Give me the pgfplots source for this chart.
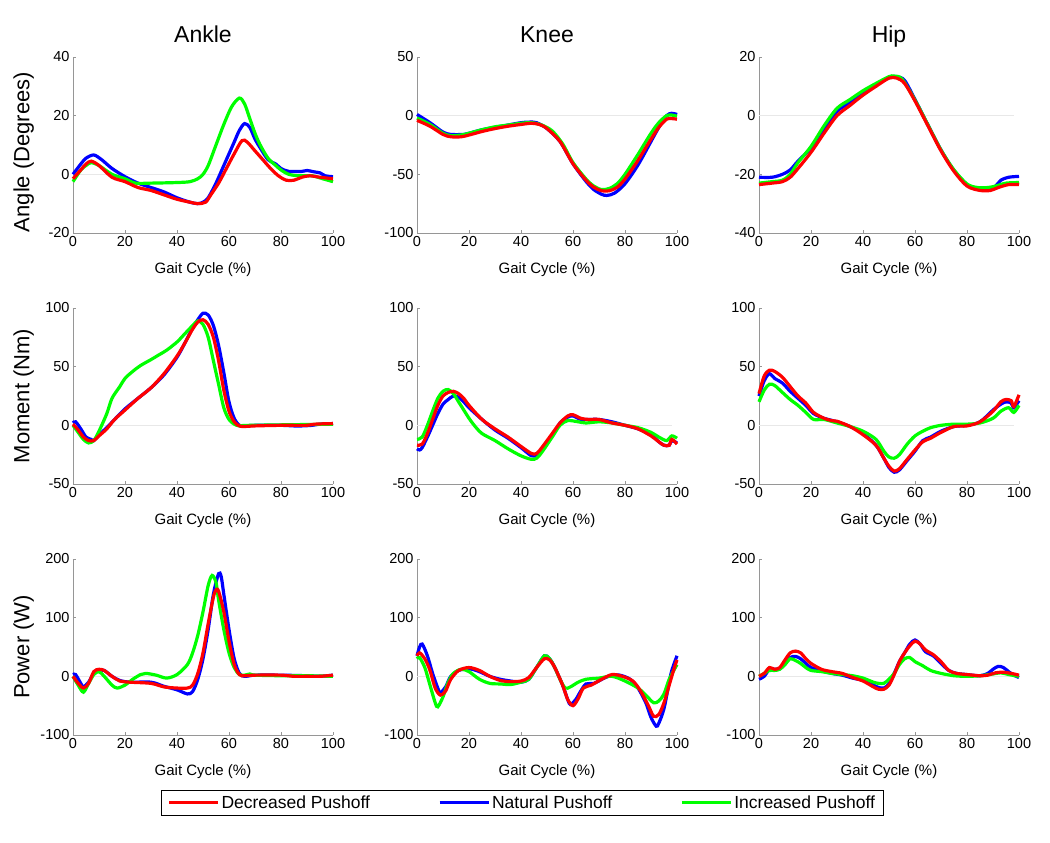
\documentclass[border=0pt]{standalone}
\usepackage{pgfplots}
\pgfplotsset{compat=1.18}
\usepackage{fontspec}
\setmainfont{Liberation Sans}
\definecolor{axgray}{RGB}{150,150,150}
\definecolor{zgray}{RGB}{232,232,232}
\pgfplotsset{
  gait/.style={
    scale only axis, width=260pt, height=176pt,
    xmin=0, xmax=100, xtick={0,20,...,100},
    axis lines=left, axis line style={-, draw=axgray, line width=0.6pt},
    tick style={draw=axgray, line width=0.6pt}, tick align=inside, major tick length=3pt,
    ticklabel style={font=\fontsize{14.5}{17}\selectfont, text=black},
    /pgf/number format/assume math mode=true,
    xlabel={Gait Cycle (\%)},
    every axis x label/.style={at={(axis description cs:0.5,0)}, anchor=base, yshift=-41pt, font=\fontsize{15}{18}\selectfont},
    every axis title/.style={at={(axis description cs:0.5,1)}, anchor=base, yshift=14pt, font=\fontsize{23}{27}\selectfont},
    every axis y label/.style={at={(axis description cs:-0.19,0.5)}, rotate=90, anchor=center, font=\fontsize{22}{26}\selectfont},
    clip=false,
  },
  dat/.style={line width=3.2pt, smooth, forget plot},
}
\newcommand{\zeroline}{\addplot[zgray, line width=0.5pt, forget plot] coordinates {(0,0) (98,0)};}
\begin{document}
\begin{tikzpicture}
\useasboundingbox (0,0) rectangle (1050pt,843pt);
% ---------------- Row 1: angles ----------------
\begin{axis}[gait, at={(73pt,610pt)}, anchor=south west, ymin=-20, ymax=40, ytick={-20,0,20,40}, title={Ankle}, ylabel={Angle (Degrees)},
  every axis y label/.style={at={(axis description cs:-0.19,0.46)}, rotate=90, anchor=center, font=\fontsize{22}{26}\selectfont}]
\zeroline
\addplot[blue, dat] coordinates {(0,0) (3,3.5) (5,5.5) (8,6.6) (11,5) (15,2) (20,-0.8) (25,-3) (30,-4.5) (35,-6) (40,-8) (45,-9.5) (48,-10) (50,-9.5) (52,-8) (55,-3) (58,3) (60,7) (62,11) (64,15) (66,17.3) (68,16) (70,12) (72,9) (75,5) (78,3.5) (80,2) (83,1) (88,1) (90,1.3) (93,0.8) (95,0.5) (97,-0.5) (100,-0.8)};
\addplot[green, dat] coordinates {(0,-2.5) (3,1.5) (5,3) (7,4) (10,3) (15,0) (20,-1.5) (24,-3) (30,-3) (40,-2.8) (45,-2.5) (48,-1.5) (50,0) (52,3) (55,10) (58,17) (61,23) (64,26) (66,24) (68,19) (70,14) (72,10) (75,5.5) (78,3) (80,1.5) (83,0) (87,-0.5) (92,-0.5) (96,-1.5) (100,-2.5)};
\addplot[red, dat] coordinates {(0,-1.5) (3,1.5) (5,3.5) (7,4.5) (10,3) (15,-1) (20,-2.5) (25,-4.5) (30,-5.5) (35,-7) (40,-8.5) (45,-9.5) (48,-10) (51,-9.5) (53,-7) (56,-3) (59,2) (62,7) (65,11.5) (67,11) (70,8) (73,5) (76,2) (79,-0.5) (82,-2) (85,-2) (88,-1) (91,-0.5) (95,-1) (100,-1.5)};
\end{axis}
\begin{axis}[gait, at={(417pt,610pt)}, anchor=south west, ymin=-100, ymax=50, ytick={-100,-50,0,50}, title={Knee}]
\zeroline
\addplot[blue, dat] coordinates {(0,1) (5,-6) (10,-14) (13,-16) (18,-16) (20,-15) (25,-12) (30,-10) (35,-8) (40,-6) (43,-5.5) (46,-6) (50,-11) (55,-22) (60,-41) (65,-56) (68,-63) (71,-67) (73,-68) (76,-66) (80,-58) (85,-42) (90,-22) (93,-10) (96,0) (98,2) (100,1)};
\addplot[green, dat] coordinates {(0,-2) (5,-7.5) (10,-15) (13,-17) (17,-16.5) (20,-15) (25,-12) (30,-9.5) (35,-8) (40,-6.5) (44,-6) (48,-8) (52,-13) (56,-24) (60,-40) (65,-54) (68,-60) (71,-63) (74,-62) (77,-58) (80,-50) (85,-33) (90,-15) (93,-6) (96,0) (98,0.5) (100,-0.5)};
\addplot[red, dat] coordinates {(0,-4) (5,-9) (10,-16) (13,-18) (17,-18) (20,-16.5) (25,-13.5) (30,-11) (35,-9) (40,-7.5) (44,-6.5) (47,-7.5) (50,-11) (55,-22) (60,-41) (65,-55) (68,-61) (71,-64) (74,-64) (77,-61) (80,-54) (85,-38) (90,-20) (93,-10) (96,-3) (98,-2.5) (100,-3)};
\end{axis}
\begin{axis}[gait, at={(759pt,610pt)}, anchor=south west, ymin=-40, ymax=20, ytick={-40,-20,0,20}, title={Hip}]
\zeroline
\addplot[blue, dat] coordinates {(0,-21) (5,-21) (9,-20) (12,-18.5) (15,-15.5) (20,-11) (25,-4.5) (30,1.5) (35,4.5) (40,8) (45,10.5) (50,13) (53,13.3) (56,12) (60,5.5) (65,-3.2) (70,-11.7) (75,-18.7) (80,-23.5) (84,-25) (88,-25) (91,-24) (93,-22) (96,-21) (100,-20.7)};
\addplot[green, dat] coordinates {(0,-23) (5,-22.5) (9,-22) (12,-20) (15,-16) (20,-10.5) (25,-3.5) (30,2.5) (35,5.5) (40,8.5) (45,11) (50,13.3) (52,13.5) (55,12.5) (60,5.3) (65,-3.2) (70,-11.7) (75,-18.5) (80,-23.3) (84,-24.5) (88,-24.5) (91,-24) (95,-23) (100,-22.8)};
\addplot[red, dat] coordinates {(0,-23.5) (5,-23) (9,-22.5) (12,-21) (15,-18) (20,-12.5) (25,-6) (30,0) (35,3.5) (40,7) (45,10) (50,12.8) (53,12.8) (56,11) (60,5) (65,-3.5) (70,-12) (75,-19) (80,-24) (85,-25.5) (89,-25.5) (92,-24.5) (96,-23.5) (100,-23.5)};
\end{axis}
% ---------------- Row 2: moments ----------------
\begin{axis}[gait, at={(73pt,359pt)}, anchor=south west, ymin=-50, ymax=100, ytick={-50,0,50,100}, ylabel={Moment (Nm)}]
\zeroline
\addplot[blue, dat] coordinates {(0,2) (1,3) (3,-3) (5,-10) (7,-12) (8,-13) (10,-8) (13,-2) (16,5) (20,14) (25,23) (30,32) (35,43) (40,58) (43,70) (46,83) (48,90) (50,95.5) (52,94) (54,85) (56,68) (58,45) (60,20) (62,6) (64,0) (66,-0.5) (70,0) (80,0) (85,-0.5) (88,-0.5) (92,0) (95,1) (100,1.5)};
\addplot[green, dat] coordinates {(0,0) (2,-6) (4,-12) (6,-15) (8,-13) (10,-5) (13,10) (15,23) (18,33) (20,40) (23,46) (26,51) (30,56) (33,60) (36,64) (40,71) (43,78) (46,85) (48,89) (50,86) (52,75) (54,55) (56,35) (58,15) (60,5) (62,1) (64,-0.5) (68,0) (100,1)};
\addplot[red, dat] coordinates {(0,1) (2,-4) (4,-10) (6,-13) (8,-13) (10,-9) (13,-3) (16,5) (20,13) (25,23) (30,32) (35,44) (40,59) (43,70) (46,82) (48,88) (50,90) (52,86) (54,75) (56,55) (58,30) (60,12) (62,3) (64,-0.5) (66,-1) (70,-0.5) (80,0) (90,0) (93,1) (100,1.5)};
\end{axis}
\begin{axis}[gait, at={(417pt,359pt)}, anchor=south west, ymin=-50, ymax=100, ytick={-50,0,50,100}]
\zeroline
\addplot[blue, dat] coordinates {(0,-20) (1,-21) (2,-19) (4,-10) (6,0) (8,10) (10,18) (12,22) (14,25) (16,24) (18,20) (20,15) (25,5) (30,-4) (35,-11) (40,-19) (44,-26) (46,-25) (48,-20) (52,-9) (55,2) (58,7) (60,8) (63,5) (66,5) (70,5) (75,3) (80,0) (85,-3) (90,-8) (93,-14) (95,-17) (97,-17) (98,-13) (100,-15)};
\addplot[green, dat] coordinates {(0,-12) (2,-10) (4,0) (6,12) (8,23) (10,29) (12,30.5) (14,27) (16,20) (18,13) (20,6) (22,0) (25,-7) (30,-13) (35,-20) (40,-26) (44,-29) (46,-28) (48,-23) (52,-10) (55,0) (58,4) (62,3) (65,2) (70,3) (75,2) (80,0) (85,-2) (90,-6) (93,-10) (96,-13) (98,-9) (100,-11)};
\addplot[red, dat] coordinates {(0,-17) (2,-16) (4,-7) (6,5) (8,17) (10,25) (12,28) (14,29) (16,27) (18,23) (20,17) (25,5) (30,-3) (35,-10) (40,-18) (44,-24) (46,-24) (48,-19) (52,-7) (55,2) (58,8) (60,9) (63,6) (66,5) (70,5) (75,2) (80,0) (85,-3) (90,-9) (93,-14) (95,-17) (97,-17) (98,-12) (100,-16)};
\end{axis}
\begin{axis}[gait, at={(759pt,359pt)}, anchor=south west, ymin=-50, ymax=100, ytick={-50,0,50,100}]
\zeroline
\addplot[blue, dat] coordinates {(0,25) (2,38) (4,44) (6,40) (9,36) (12,29) (15,23) (18,17) (21,10) (25,6) (30,3) (35,-1) (40,-7) (45,-17) (48,-28) (50,-36) (52,-40) (54,-38) (57,-30) (60,-22) (63,-13) (66,-10) (70,-5) (75,-1) (80,0) (85,3) (90,13) (93,18) (95,20) (97,19) (98,15) (100,21)};
\addplot[green, dat] coordinates {(0,20) (2,30) (4,35) (6,34) (9,28) (12,22) (15,17) (18,11) (21,5) (25,5) (30,2) (35,-1) (40,-5) (45,-12) (48,-22) (50,-27) (52,-28) (54,-25) (57,-16) (60,-9) (63,-5) (66,-2) (70,0) (75,1) (80,1) (85,2) (90,6) (93,12) (96,15) (98,11) (100,17)};
\addplot[red, dat] coordinates {(0,27) (2,42) (4,47) (6,46) (9,41) (12,33) (15,25) (18,19) (21,11) (25,6) (28,4) (30,3.5) (35,-1) (40,-8) (45,-17) (48,-28) (50,-35) (52,-39) (54,-37) (57,-29) (60,-21) (63,-14) (66,-11) (70,-6) (75,-1) (80,-0.5) (85,3) (90,12) (93,20) (95,22) (97,21) (98,16) (100,26)};
\end{axis}
% ---------------- Row 3: power ----------------
\begin{axis}[gait, at={(73pt,108pt)}, anchor=south west, ymin=-100, ymax=200, ytick={-100,0,100,200}, ylabel={Power (W)}]
\zeroline
\addplot[blue, dat] coordinates {(0,3) (1,3) (3,-12) (4,-18) (6,-10) (8,5) (10,10) (12,10) (15,0) (18,-7) (22,-10) (30,-10) (35,-17) (40,-23) (44,-30) (46,-26) (48,-5) (50,30) (52,80) (54,140) (56,175) (57,170) (58,140) (60,80) (62,30) (64,5) (66,0) (70,2) (80,2) (90,1) (95,0) (100,2)};
\addplot[green, dat] coordinates {(0,0) (2,-15) (4,-27) (6,-12) (8,3) (10,8) (12,0) (15,-15) (17,-20) (20,-15) (23,-5) (26,3) (28,5) (32,2) (36,-3) (40,3) (44,20) (46,40) (48,70) (50,110) (52,155) (53.5,172) (55,160) (56,130) (58,80) (60,40) (62,15) (64,3) (66,2) (68,4) (70,2) (80,1) (90,1) (100,0)};
\addplot[red, dat] coordinates {(0,0) (2,-12) (4,-20) (6,-12) (8,8) (10,12) (12,10) (15,0) (18,-8) (22,-10) (30,-12) (35,-18) (40,-20) (44,-20) (46,-15) (48,5) (50,40) (52,90) (54,135) (55,147) (56,145) (58,110) (60,60) (62,20) (64,3) (66,1) (70,2) (80,2) (85,0) (90,0) (95,0) (100,2)};
\end{axis}
\begin{axis}[gait, at={(417pt,108pt)}, anchor=south west, ymin=-100, ymax=200, ytick={-100,0,100,200},
  legend style={at={(axis description cs:0.405,-0.384)}, anchor=center, draw=black, line width=0.9pt,
    font=\fontsize{17.5}{20}\selectfont, inner xsep=6pt, inner ysep=3.5pt,
    /tikz/every even column/.append style={column sep=66pt}},
  legend columns=3,
  legend image code/.code={\draw[#1, line width=3pt] (0pt,0pt) -- (49pt,0pt);}]
\addlegendimage{red}
\addlegendentry{Decreased Pushoff}
\addlegendimage{blue}
\addlegendentry{Natural Pushoff}
\addlegendimage{green}
\addlegendentry{Increased Pushoff}
\zeroline
\addplot[blue, dat] coordinates {(0,35) (1,50) (2,55) (4,35) (6,5) (8,-20) (9,-28) (11,-18) (13,0) (16,10) (20,13) (24,8) (28,0) (32,-5) (36,-8) (40,-10) (43,-5) (46,15) (49,35) (51,30) (53,15) (56,-15) (58,-40) (59,-48) (61,-40) (63,-25) (65,-13) (68,-12) (72,-3) (75,2) (78,2) (82,-5) (85,-20) (88,-45) (90,-70) (92,-85) (93,-80) (95,-55) (97,-10) (98,10) (100,35)};
\addplot[green, dat] coordinates {(0,30) (1,32) (3,15) (5,-15) (7,-45) (8,-52) (10,-35) (12,-10) (14,5) (17,12) (20,8) (24,-5) (28,-12) (32,-13) (36,-14) (40,-10) (43,-5) (46,15) (49,35) (51,30) (53,15) (55,-5) (57,-20) (59,-18) (62,-10) (65,-5) (70,-3) (75,0) (80,-8) (85,-20) (88,-32) (91,-45) (93,-42) (95,-30) (97,-5) (100,20)};
\addplot[red, dat] coordinates {(0,35) (1,40) (3,30) (5,10) (7,-20) (9,-32) (11,-25) (13,-5) (16,10) (20,15) (24,10) (28,0) (32,-7) (36,-9) (40,-8) (43,-2) (46,15) (49,30) (51,28) (53,15) (56,-15) (58,-40) (60,-50) (62,-38) (64,-20) (67,-15) (71,-5) (75,3) (79,0) (83,-8) (86,-25) (89,-50) (91,-68) (93,-65) (95,-45) (97,-15) (99,15) (100,28)};
\end{axis}
\begin{axis}[gait, at={(759pt,108pt)}, anchor=south west, ymin=-100, ymax=200, ytick={-100,0,100,200}]
\zeroline
\addplot[blue, dat] coordinates {(0,-5) (2,0) (4,12) (6,12) (8,13) (10,22) (12,32) (14,34) (16,30) (18,22) (20,15) (24,10) (28,5) (32,2) (36,-3) (40,-7) (44,-15) (46,-19) (48,-20) (50,-13) (52,5) (54,25) (56,40) (58,55) (60,62) (62,55) (64,42) (67,35) (70,22) (73,10) (76,5) (80,3) (85,1) (88,5) (90,12) (92,17) (94,15) (96,8) (98,2) (100,-2)};
\addplot[green, dat] coordinates {(0,0) (2,5) (4,10) (6,10) (8,12) (10,20) (12,30) (14,27) (16,22) (18,15) (20,10) (24,8) (28,5) (32,3) (36,1) (40,-3) (44,-10) (46,-12) (48,-12) (50,-5) (52,5) (54,20) (56,30) (58,32) (60,25) (63,18) (66,10) (70,5) (75,1) (80,0) (85,1) (90,4) (93,6) (96,3) (100,0)};
\addplot[red, dat] coordinates {(0,0) (2,5) (4,15) (6,12) (8,15) (10,28) (12,40) (14,43) (16,40) (18,30) (20,22) (24,12) (28,8) (32,5) (36,-2) (40,-8) (44,-18) (46,-22) (48,-22) (50,-15) (52,3) (54,25) (56,40) (58,52) (60,60) (62,55) (64,45) (67,37) (70,25) (73,10) (76,5) (80,3) (85,1) (88,2) (91,6) (94,7) (97,5) (100,2)};
\end{axis}
\end{tikzpicture}
\end{document}
